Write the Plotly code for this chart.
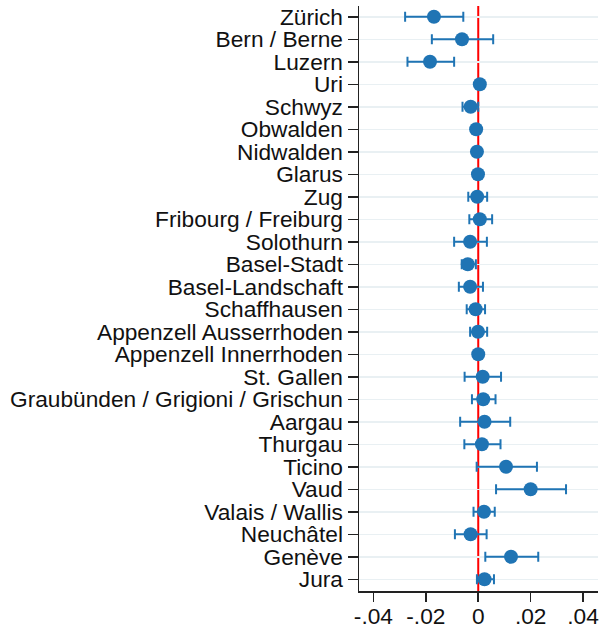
import plotly.graph_objects as go

cantons = ["Zürich", "Bern / Berne", "Luzern", "Uri", "Schwyz", "Obwalden", "Nidwalden",
           "Glarus", "Zug", "Fribourg / Freiburg", "Solothurn", "Basel-Stadt",
           "Basel-Landschaft", "Schaffhausen", "Appenzell Ausserrhoden",
           "Appenzell Innerrhoden", "St. Gallen", "Graubünden / Grigioni / Grischun",
           "Aargau", "Thurgau", "Ticino", "Vaud", "Valais / Wallis", "Neuchâtel",
           "Genève", "Jura"]
estimate = [-0.0169, -0.0062, -0.0184, 0.0006, -0.0029, -0.0008, -0.0005, -0.0001,
            -0.0004, 0.0006, -0.0031, -0.0040, -0.0031, -0.0010, -0.0001, 0.0000,
            0.0017, 0.0019, 0.0024, 0.0014, 0.0106, 0.0200, 0.0022, -0.0029, 0.0125, 0.0024]
ci_low = [-0.0279, -0.0177, -0.0270, 0.0003, -0.0060, -0.0020, -0.0018, -0.0013,
          -0.0038, -0.0034, -0.0092, -0.0063, -0.0074, -0.0044, -0.0031, -0.0003,
          -0.0052, -0.0024, -0.0069, -0.0053, -0.0006, 0.0068, -0.0018, -0.0089, 0.0027, -0.0005]
ci_high = [-0.0057, 0.0057, -0.0092, 0.0009, 0.0000, 0.0004, 0.0008, 0.0012,
           0.0034, 0.0053, 0.0033, -0.0009, 0.0018, 0.0026, 0.0034, 0.0003,
           0.0087, 0.0066, 0.0122, 0.0085, 0.0224, 0.0335, 0.0063, 0.0032, 0.0229, 0.0060]
x_tickvals = [-0.04, -0.02, 0, 0.02, 0.04]
x_ticktext = ["-.04", "-.02", "0", ".02", ".04"]

blue = "#1f74b4"
ypos = list(range(len(cantons)))

fig = go.Figure()
fig.add_trace(go.Scatter(
    x=estimate, y=ypos, mode="markers",
    marker=dict(color=blue, size=14, line=dict(width=0)),
    error_x=dict(type="data", symmetric=False,
                 array=[h - e for h, e in zip(ci_high, estimate)],
                 arrayminus=[e - l for e, l in zip(estimate, ci_low)],
                 color=blue, thickness=2, width=5),
    showlegend=False, hoverinfo="skip"))

fig.add_shape(type="line", x0=0, x1=0, xref="x", y0=0, y1=1, yref="paper",
              line=dict(color="#ff0000", width=2), layer="below")

font = dict(family="Liberation Sans, Arial, Helvetica, sans-serif", size=22.7, color="#111111")
fig.update_layout(
    width=604, height=628,
    margin=dict(l=359, r=6, t=6, b=37, autoexpand=False),
    paper_bgcolor="white", plot_bgcolor="white",
    font=font,
    xaxis=dict(range=[-0.0455, 0.0457], tickvals=x_tickvals, ticktext=x_ticktext,
               showgrid=False, zeroline=False, showline=True, linecolor="#222222",
               linewidth=1.5, ticks="outside", ticklen=9, tickwidth=1.5,
               tickcolor="#222222", tickfont=font, automargin=False,
               ticklabelstandoff=-5),
    yaxis=dict(range=[25.52, -0.48], tickvals=ypos, ticktext=cantons,
               showgrid=True, gridcolor="#e9f0f3", gridwidth=1.5, zeroline=False,
               showline=True, linecolor="#222222", linewidth=1.5, ticks="outside",
               ticklen=10, tickwidth=1.5, tickcolor="#222222", tickfont=font,
               automargin=False),
)

fig.write_html("out.html", config={"displayModeBar": False, "staticPlot": True},
               post_script="document.body.style.margin='0';document.body.style.padding='0';")
